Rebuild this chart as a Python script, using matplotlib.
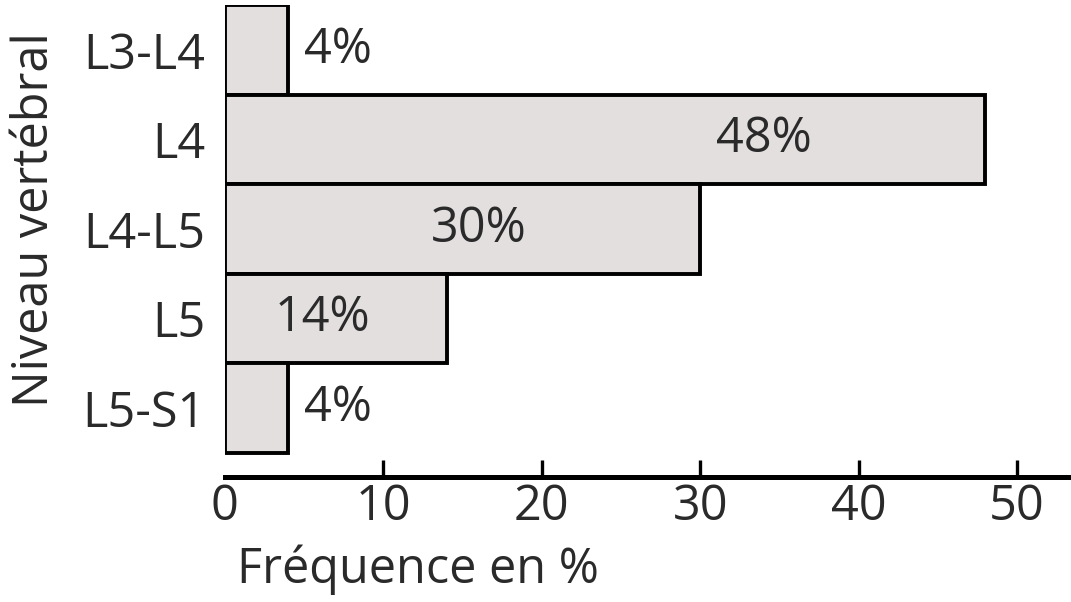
import matplotlib
matplotlib.use('Agg')
import matplotlib.pyplot as plt

# data
levels = ['L3-L4', 'L4', 'L4-L5', 'L5', 'L5-S1']
frequency = [4, 48, 30, 14, 4]
xticks = [0, 10, 20, 30, 40, 50]

plt.rcParams['font.family'] = ['Open Sans', 'DejaVu Sans']
FS = 35
TXT = '#2a2a2a'

fig = plt.figure(figsize=(10.71, 6.02), dpi=100)
ax = fig.add_axes([0.21, 0.2076, 0.79, 0.7841])

ypos = list(range(len(levels)))
ax.barh(ypos, frequency, height=1.0, color='#e4dfdf', edgecolor='black', linewidth=2.8)
ax.invert_yaxis()
ax.set_ylim(len(levels) - 0.5 + 0.27, -0.5)
ax.set_xlim(0, 53.4)

for y, v in zip(ypos, frequency):
    if v < 10:
        ax.text(v + 1.0, y, '{}%'.format(v), ha='left', va='center', fontsize=FS, color=TXT)
    else:
        ax.text(max(v - 14, v * 0.44), y, '{}%'.format(v), ha='center', va='center',
                fontsize=FS, color=TXT)

ax.set_yticks(ypos)
ax.set_yticklabels(levels, fontsize=FS, color=TXT)
ax.tick_params(axis='y', length=0, pad=14)

ax.set_xticks(xticks)
ax.set_xticklabels([str(t) for t in xticks], fontsize=FS, color=TXT)
ax.tick_params(axis='x', direction='in', length=12, width=2.4, pad=4)
ax.get_xticklines()[0].set_visible(False)

for s in ['top', 'right', 'left']:
    ax.spines[s].set_visible(False)
ax.spines['bottom'].set_linewidth(3.6)

fig.text(237 / 1071, 1 - 570 / 602, 'Fréquence en %', ha='left', va='center',
         fontsize=FS, color=TXT)
fig.text(35 / 1071, 1 - 220 / 602, 'Niveau vertébral', ha='center', va='center',
         rotation=90, fontsize=FS, color=TXT)

fig.savefig('out.png', dpi=100)
